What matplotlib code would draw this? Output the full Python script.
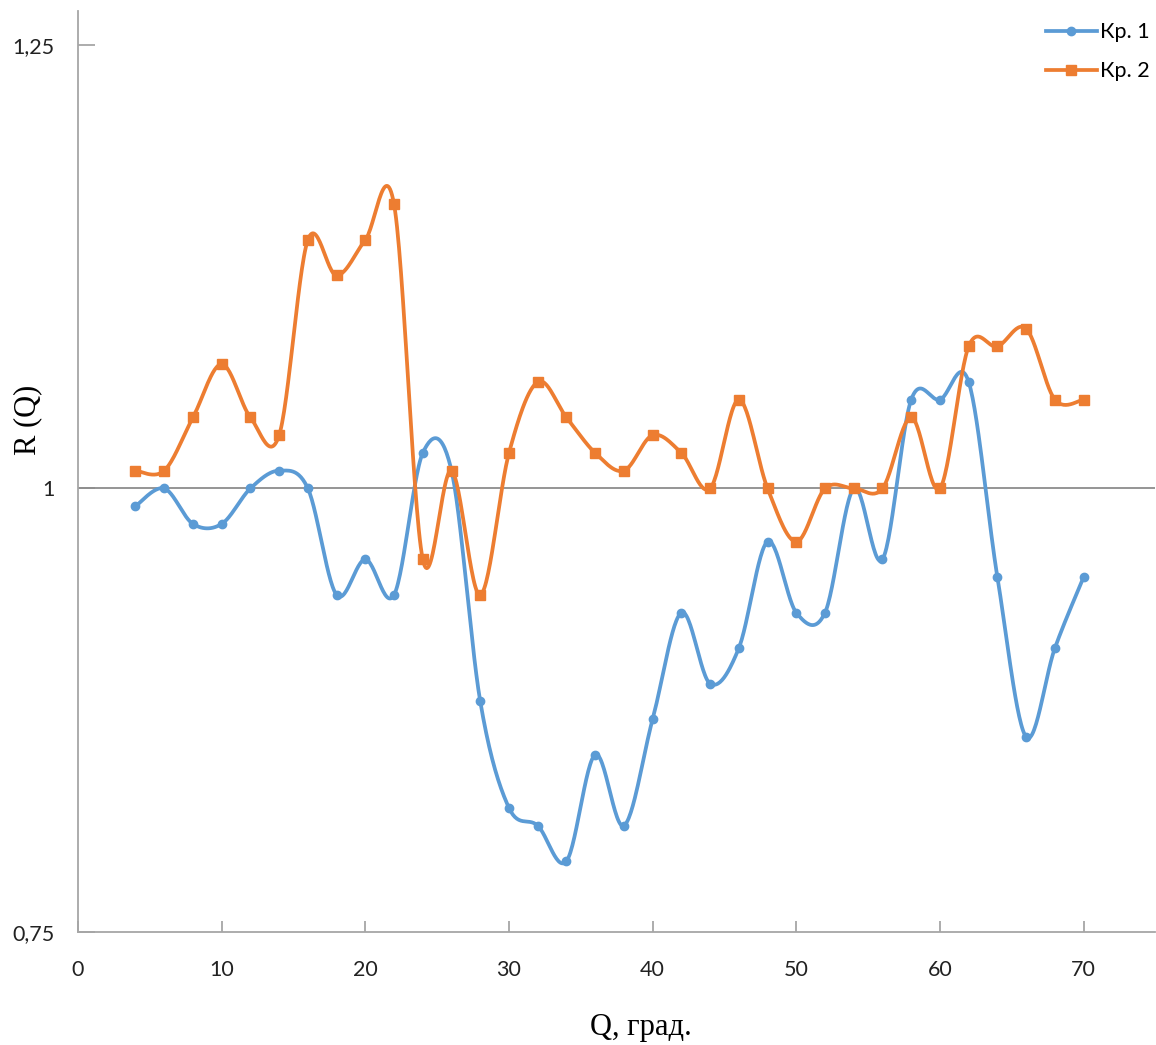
import numpy as np
import matplotlib.pyplot as plt

# angle, deg
q = [4, 6, 8, 10, 12, 14, 16, 18, 20, 22, 24, 26, 28, 30, 32, 34, 36, 38,
     40, 42, 44, 46, 48, 50, 52, 54, 56, 58, 60, 62, 64, 66, 68, 70]

kr1 = [0.99, 1.00, 0.98, 0.98, 1.00, 1.01, 1.00, 0.94, 0.96, 0.94, 1.02, 1.01,
       0.88, 0.82, 0.81, 0.79, 0.85, 0.81, 0.87, 0.93, 0.89, 0.91, 0.97, 0.93,
       0.93, 1.00, 0.96, 1.05, 1.05, 1.06, 0.95, 0.86, 0.91, 0.95]

kr2 = [1.01, 1.01, 1.04, 1.07, 1.04, 1.03, 1.14, 1.12, 1.14, 1.16, 0.96, 1.01,
       0.94, 1.02, 1.06, 1.04, 1.02, 1.01, 1.03, 1.02, 1.00, 1.05, 1.00, 0.97,
       1.00, 1.00, 1.00, 1.04, 1.00, 1.08, 1.08, 1.09, 1.05, 1.05]

labels = ['Кр. 1', 'Кр. 2']
colors = ['#5B9BD5', '#ED7D31']
markers = ['o', 's']
msizes = [6, 7]


def smooth(x, y, n=30):
    # excel-like smoothed line (catmull-rom bezier)
    x = np.asarray(x, float)
    y = np.asarray(y, float)
    px = np.concatenate([[x[0]], x, [x[-1]]])
    py = np.concatenate([[y[0]], y, [y[-1]]])
    xs, ys = [], []
    t = np.linspace(0, 1, n)
    for i in range(1, len(px) - 2):
        p0 = np.array([px[i], py[i]])
        p3 = np.array([px[i + 1], py[i + 1]])
        p1 = p0 + (p3 - np.array([px[i - 1], py[i - 1]])) / 6
        p2 = p3 - (np.array([px[i + 2], py[i + 2]]) - p0) / 6
        b = (np.outer((1 - t) ** 3, p0) + np.outer(3 * (1 - t) ** 2 * t, p1)
             + np.outer(3 * (1 - t) * t ** 2, p2) + np.outer(t ** 3, p3))
        xs.extend(b[:, 0])
        ys.extend(b[:, 1])
    return xs, ys


fig = plt.figure(figsize=(11.56, 10.45), dpi=100)
ax = fig.add_axes([0.0675, 0.108, 0.932, 0.8815])

for i, ser in enumerate([kr1, kr2]):
    sx, sy = smooth(q, ser)
    ax.plot(sx, sy, color=colors[i], lw=2.7, zorder=3)
    ax.plot(q, ser, ls='none', marker=markers[i], ms=msizes[i],
            color=colors[i], zorder=4)
    ax.plot([], [], color=colors[i], lw=2.7, marker=markers[i],
            ms=msizes[i], label=labels[i])

ax.axhline(1, color='#8c8c8c', lw=1.3, zorder=2)

ax.set_xlim(0, 75)
ax.set_ylim(0.75, 1.269)
ax.set_xticks([0, 10, 20, 30, 40, 50, 60, 70])
ax.set_yticks([0.75, 1, 1.25])
ax.set_yticklabels(['0,75', '1', '1,25'])

for s in ['top', 'right']:
    ax.spines[s].set_visible(False)
for s in ['left', 'bottom']:
    ax.spines[s].set_color('#a6a6a6')
    ax.spines[s].set_linewidth(1.3)

ax.tick_params(axis='x', direction='in', length=8, width=1.3, color='#a6a6a6',
               labelsize=15.5, pad=20, labelcolor='#222222')
ax.tick_params(axis='y', direction='in', length=12, width=1.3, color='#a6a6a6',
               labelsize=15.5, pad=17, labelcolor='#222222')
for lab in ax.get_xticklabels() + ax.get_yticklabels():
    lab.set_family('Lato')

ax.set_xlabel('Q, град.', family='Liberation Serif', fontsize=22, va='center')
ax.xaxis.set_label_coords(0.522, -0.103)
ax.set_ylabel('R (Q)', family='Liberation Serif', fontsize=22, va='center')
ax.yaxis.set_label_coords(-0.047, 0.556)

leg = ax.legend(loc='upper right', bbox_to_anchor=(1.013, 1.009), frameon=False,
                prop={'family': 'Lato', 'size': 15.5}, handlelength=2.4,
                handletextpad=0.15, labelspacing=0.9)

fig.savefig('out.png', dpi=100)
